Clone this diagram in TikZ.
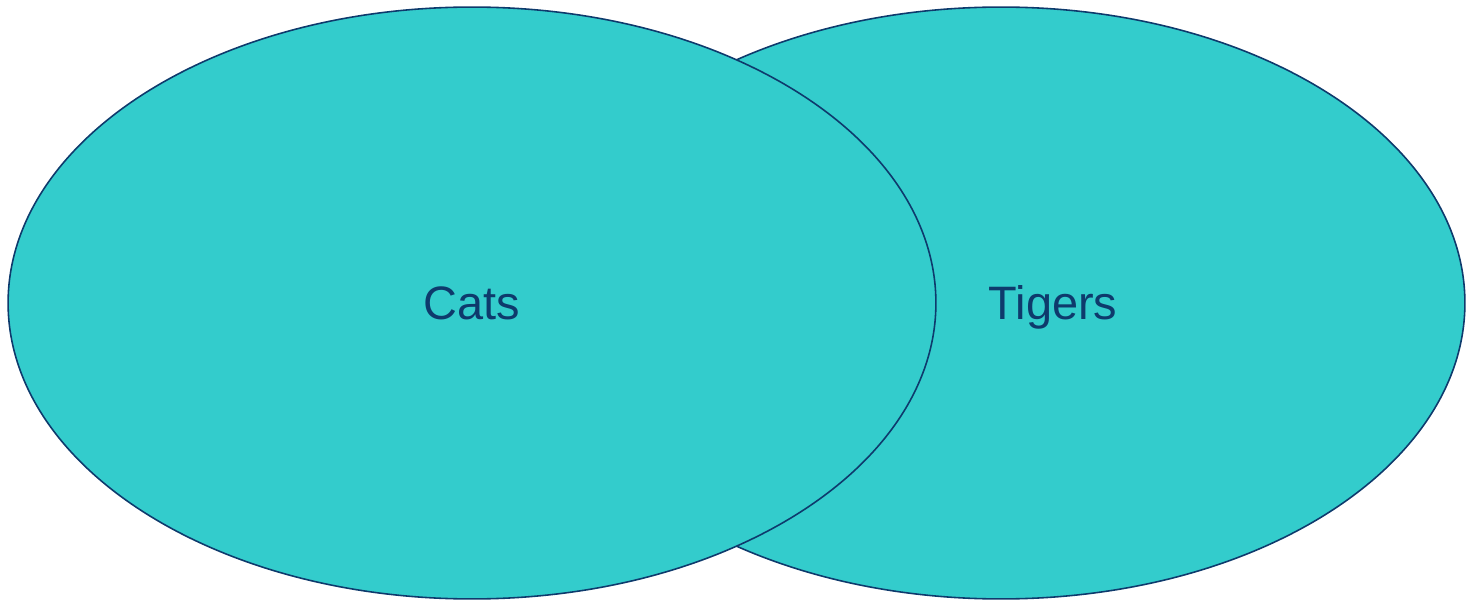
\documentclass[tikz,border=0pt]{standalone}
\usepackage{fontspec}
\setmainfont{Liberation Sans}
\usepackage{tikz}
\usetikzlibrary{shapes.geometric,positioning}

\definecolor{setfill}{RGB}{51,204,204}
\definecolor{setline}{RGB}{14,58,108}

\begin{document}
\begin{tikzpicture}[
    x=0.02cm, y=-0.02cm,
    setshape/.style={ellipse, draw=setline, line width=0.9pt, fill=setfill, inner sep=0pt, minimum width=18.56cm, minimum height=11.84cm},
    setlabel/.style={anchor=base, text=setline, inner sep=0pt, font=\fontsize{26.7}{32}\selectfont}
]
\useasboundingbox (0,0) rectangle (1466,601);

\node[setshape] (tigers) at (1001,303) {};
\node[setshape] (cats) at (472,303) {};
\node[setlabel] (catslabel) at (472,319) {Cats};
\node[setlabel] (tigerslabel) at (1053,319) {Tigers};

\end{tikzpicture}
\end{document}
